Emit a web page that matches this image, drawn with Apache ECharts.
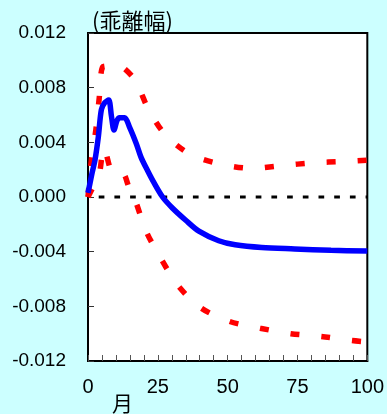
<!DOCTYPE html>
<html>
<head>
<meta charset="utf-8">
<script src="https://cdn.jsdelivr.net/npm/echarts@6/dist/echarts.min.js"></script>
<style>
html,body{margin:0;padding:0;background:#ccffff;}
#c{width:387px;height:414px;}
</style>
</head>
<body>
<div id="c"></div>
<script>
// ---- data ----
var titleText = '(乖離幅)';
var xName = '月';
var yTicks = [-0.012, -0.008, -0.004, 0, 0.004, 0.008, 0.012];
var xTicks = [0, 25, 50, 75, 100];

var centerX = [0, 0.7, 1.5, 2.5, 3.7, 4.8, 6, 7.4, 8.4, 9.3, 10.4, 11.3, 13.1, 14.9, 17.3, 19, 21.4, 23.2, 26.7, 30.2, 35, 39.7, 46.8, 52.7, 62.2, 74, 87, 100];
var centerY = [0.0003, 0.001, 0.0018, 0.0027, 0.0044, 0.0064, 0.0069, 0.0071, 0.0059, 0.0049, 0.0056, 0.0058, 0.0058, 0.0051, 0.0039, 0.0029, 0.0019, 0.0012, 0.0, -0.0008, -0.0017, -0.0025, -0.0032, -0.0035, -0.0037, -0.0038, -0.0039, -0.00395];

var upperX = [0, 1.2, 2.8, 4, 5.2, 7.8, 10, 13, 17, 21.7, 27.9, 36.8, 47.6, 58.6, 69.5, 80.5, 91.5, 100];
var upperY = [0, 0.0027, 0.0049, 0.0072, 0.0095, 0.0096, 0.0097, 0.0094, 0.0085, 0.0064, 0.0045, 0.0031, 0.0024, 0.0021, 0.0023, 0.0025, 0.0026, 0.0027];

var lowerX = [0, 2, 3.9, 5.7, 8.3, 10, 12.5, 14.5, 17, 20.8, 26.1, 32.3, 40.3, 50.6, 61.6, 72.6, 83.4, 94.3, 100];
var lowerY = [0, 0.0008, 0.0015, 0.0036, 0.0019, 0.0017, 0.0017, 0.0008, -0.0003, -0.0025, -0.0045, -0.0065, -0.0081, -0.0091, -0.0096, -0.0100, -0.0102, -0.0105, -0.0106];

var zeroX = [0, 100];
var zeroY = [0, 0];

function pairs(xs, ys){ return xs.map(function(x,i){ return [x, ys[i]]; }); }

var FONT = '"Liberation Sans", Arial, sans-serif';
var CJK = '"Noto Sans CJK JP", sans-serif';
var chart = echarts.init(document.getElementById('c'), null, {renderer:'canvas'});
chart.setOption({
  backgroundColor: '#ccffff',
  animation: false,
  title: {
    text: titleText, left: 87, top: 5,
    textStyle: {fontSize: 22, fontWeight: 'normal', color: '#000', fontFamily: CJK}
  },
  graphic: [{
    type: 'text', left: 112, top: 393,
    style: {text: xName, fontSize: 21, fill: '#000', fontFamily: CJK}
  }],
  grid: {
    left: 88, right: 17, top: 33, bottom: 53,
    show: true, backgroundColor: '#ffffff', borderColor: '#000', borderWidth: 2
  },
  xAxis: {
    type: 'value', min: xTicks[0], max: xTicks[xTicks.length-1], interval: 25,
    axisLine: {show: true, onZero: false, lineStyle: {color: '#000', width: 2}},
    axisTick: {show: true, inside: true, length: 6, lineStyle: {color: '#555', width: 1}},
    minorTick: {show: true, splitNumber: 5, length: 6, lineStyle: {color: '#555', width: 1}},
    splitLine: {show: false},
    axisLabel: {fontSize: 20, color: '#000', margin: 16, fontFamily: FONT}
  },
  yAxis: {
    type: 'value', min: yTicks[0], max: yTicks[yTicks.length-1], interval: 0.004,
    axisLine: {show: true, lineStyle: {color: '#000', width: 2}},
    axisTick: {show: true, inside: true, length: 6, lineStyle: {color: '#333', width: 1}},
    splitLine: {show: false},
    axisLabel: {fontSize: 19, color: '#000', margin: 22, fontFamily: FONT,
      formatter: function(v){ var s = (Math.abs(v) < 1e-9 ? 0 : v).toFixed(3); return s; }}
  },
  series: [
    {type: 'line', data: pairs(zeroX, zeroY), symbol: 'none', z: 1,
     lineStyle: {color: '#000', width: 3, type: [5.7, 10], dashOffset: 5}},
    {type: 'line', data: pairs(upperX, upperY), symbol: 'none', z: 3, smooth: 0.3,
     lineStyle: {color: '#ff0000', width: 5.5, type: [9, 22]}},
    {type: 'line', data: pairs(lowerX, lowerY), symbol: 'none', z: 3, smooth: 0.3,
     lineStyle: {color: '#ff0000', width: 5.5, type: [9, 22]}},
    {type: 'line', data: pairs(centerX, centerY), symbol: 'none', z: 4, smooth: 0.3,
     lineStyle: {color: '#0000ff', width: 5.5}}
  ]
});
</script>
</body>
</html>
